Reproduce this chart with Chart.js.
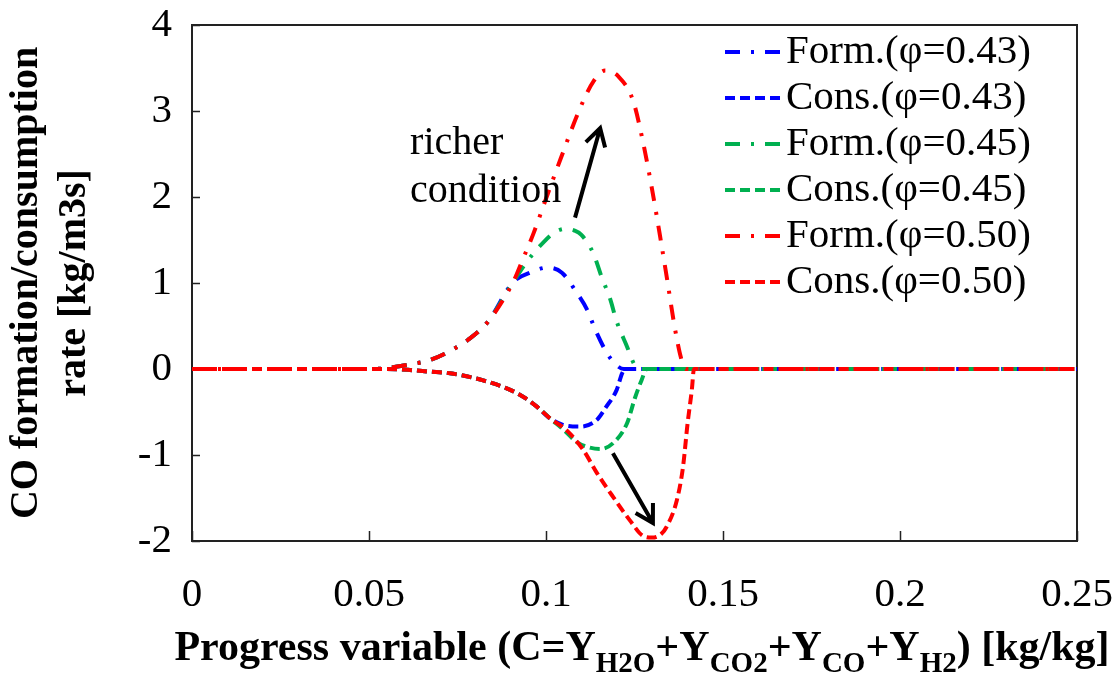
<!DOCTYPE html>
<html>
<head>
<meta charset="utf-8">
<script src="https://cdn.jsdelivr.net/npm/chart.js@4.4.0/dist/chart.umd.min.js"></script>
<style>
  html, body { margin: 0; padding: 0; background: #fff; }
</style>
</head>
<body>
<canvas id="rate" width="1120" height="675"></canvas>
<script>
const serif = "'Liberation Serif', 'Times New Roman', serif";

// progress variable C [kg/kg] vs CO formation / consumption rate [kg/m3s]
const formX43 = [0, 0.05, 0.055, 0.061, 0.067, 0.0734, 0.078, 0.0836, 0.0907, 0.0955, 0.1005, 0.1045, 0.1088, 0.1116, 0.114, 0.117, 0.1195, 0.122, 0.25];
const formY43 = [0, 0, 0.01, 0.05, 0.10, 0.22, 0.34, 0.55, 1.01, 1.12, 1.18, 1.12, 0.88, 0.69, 0.45, 0.20, 0.06, 0, 0];
const consX43 = [0, 0.05, 0.055, 0.061, 0.067, 0.0729, 0.082, 0.0918, 0.0975, 0.101, 0.1048, 0.1096, 0.1144, 0.117, 0.120, 0.1215, 0.1225, 0.25];
const consY43 = [0, 0, 0, -0.01, -0.03, -0.05, -0.13, -0.28, -0.44, -0.57, -0.65, -0.67, -0.59, -0.44, -0.24, -0.05, 0, 0];

const formX45 = [0, 0.05, 0.055, 0.061, 0.067, 0.0734, 0.078, 0.0836, 0.0907, 0.095, 0.0992, 0.1025, 0.1054, 0.108, 0.110, 0.1133, 0.1158, 0.118, 0.120, 0.1229, 0.125, 0.127, 0.25];
const formY45 = [0, 0, 0.01, 0.05, 0.10, 0.22, 0.34, 0.55, 1.01, 1.27, 1.47, 1.59, 1.63, 1.61, 1.56, 1.35, 1.06, 0.83, 0.55, 0.26, 0.05, 0, 0];
const consX45 = [0, 0.05, 0.055, 0.061, 0.067, 0.0729, 0.082, 0.0918, 0.0975, 0.101, 0.1048, 0.1087, 0.112, 0.1153, 0.119, 0.1229, 0.1251, 0.127, 0.1285, 0.25];
const consY45 = [0, 0, 0, -0.01, -0.03, -0.05, -0.13, -0.28, -0.44, -0.57, -0.70, -0.85, -0.91, -0.93, -0.86, -0.63, -0.34, -0.13, 0, 0];

const formX50 = [0, 0.05, 0.055, 0.061, 0.067, 0.0734, 0.078, 0.0836, 0.0907, 0.0935, 0.0965, 0.100, 0.104, 0.1096, 0.1135, 0.1167, 0.1205, 0.1246, 0.1275, 0.130, 0.1322, 0.1343, 0.1363, 0.1382, 0.1395, 0.25];
const formY50 = [0, 0, 0.01, 0.05, 0.10, 0.22, 0.34, 0.55, 1.01, 1.28, 1.58, 1.98, 2.43, 3.03, 3.35, 3.47, 3.40, 3.12, 2.62, 2.08, 1.55, 1.02, 0.50, 0.12, 0, 0];
const consX50 = [0, 0.05, 0.055, 0.061, 0.067, 0.0729, 0.082, 0.0918, 0.0975, 0.101, 0.106, 0.1105, 0.1144, 0.119, 0.1237, 0.1274, 0.130, 0.1325, 0.134, 0.137, 0.1387, 0.140, 0.1412, 0.1418, 0.25];
const consY50 = [0, 0, 0, -0.01, -0.03, -0.05, -0.13, -0.28, -0.44, -0.57, -0.72, -0.94, -1.21, -1.49, -1.76, -1.94, -1.96, -1.92, -1.84, -1.52, -1.14, -0.63, -0.24, 0, 0];

const seriesLabels = ['Form.(φ=0.43)', 'Cons.(φ=0.43)', 'Form.(φ=0.45)', 'Cons.(φ=0.45)', 'Form.(φ=0.50)', 'Cons.(φ=0.50)'];
const xTickVals = [0, 0.05, 0.1, 0.15, 0.2, 0.25];
const xTickLabels = ['0', '0.05', '0.1', '0.15', '0.2', '0.25'];

// "richer condition" note and its two arrows, in data units
const noteLines = ['richer', 'condition'];
const noteAt = { x: 0.0616, y: [2.50, 1.94] };
const arrows = [
  { from: [0.1082, 1.76], to: [0.1153, 2.80] },
  { from: [0.1189, -0.98], to: [0.1302, -1.79] }
];

const BLUE = '#0000ff', GREEN = '#00b050', RED = '#ff0000';
const DASHDOT = [15, 11, 3, 11];
const DASH = [10, 5];

const pts = (xs, ys) => xs.map((v, i) => ({ x: v, y: ys[i] }));

function line(label, xs, ys, color, dash, order) {
  return {
    label, data: pts(xs, ys), borderColor: color, backgroundColor: color,
    borderDash: dash, borderWidth: 4, borderCapStyle: 'butt',
    pointRadius: 0, cubicInterpolationMode: 'monotone', fill: false, order
  };
}

// box frame with inward tick marks
const framePlugin = {
  id: 'frame',
  beforeDatasetsDraw(chart) {
    const { ctx, chartArea: a, scales: { x, y } } = chart;
    ctx.save();
    ctx.strokeStyle = '#222';
    ctx.lineWidth = 2;
    ctx.strokeRect(a.left, a.top, a.right - a.left, a.bottom - a.top);
    ctx.lineWidth = 1.5;
    ctx.beginPath();
    y.ticks.forEach(t => {
      const py = Math.round(y.getPixelForValue(t.value)) + 0.5;
      ctx.moveTo(a.left, py); ctx.lineTo(a.left + 8, py);
    });
    x.ticks.forEach(t => {
      const px = Math.round(x.getPixelForValue(t.value)) + 0.5;
      ctx.moveTo(px, a.bottom); ctx.lineTo(px, a.bottom - 10);
    });
    ctx.stroke();
    ctx.restore();
  }
};

function drawArrow(ctx, x0, y0, x1, y1) {
  const ang = Math.atan2(y1 - y0, x1 - x0);
  const len = 20, spread = Math.PI / 6;
  ctx.beginPath();
  ctx.moveTo(x0, y0); ctx.lineTo(x1, y1);
  ctx.moveTo(x1 - len * Math.cos(ang - spread), y1 - len * Math.sin(ang - spread));
  ctx.lineTo(x1, y1);
  ctx.lineTo(x1 - len * Math.cos(ang + spread), y1 - len * Math.sin(ang + spread));
  ctx.stroke();
}

const notePlugin = {
  id: 'notes',
  afterDatasetsDraw(chart) {
    const { ctx, scales: { x, y } } = chart;
    ctx.save();
    ctx.fillStyle = '#000';
    ctx.font = '40px ' + serif;
    ctx.textAlign = 'left';
    ctx.textBaseline = 'alphabetic';
    noteLines.forEach((t, i) => ctx.fillText(t, x.getPixelForValue(noteAt.x), y.getPixelForValue(noteAt.y[i])));
    ctx.strokeStyle = '#000';
    ctx.lineWidth = 4;
    ctx.lineJoin = 'miter';
    arrows.forEach(a => drawArrow(ctx,
      x.getPixelForValue(a.from[0]), y.getPixelForValue(a.from[1]),
      x.getPixelForValue(a.to[0]), y.getPixelForValue(a.to[1])));
    ctx.restore();
  }
};

// legend inside the plot, top right
const keyPlugin = {
  id: 'key',
  afterDatasetsDraw(chart) {
    const ctx = chart.ctx;
    ctx.save();
    ctx.font = '41px ' + serif;
    ctx.textBaseline = 'middle';
    ctx.textAlign = 'left';
    chart.data.datasets.forEach((ds, i) => {
      const yy = 52 + i * 46;
      ctx.strokeStyle = ds.borderColor;
      ctx.lineWidth = 4;
      ctx.setLineDash(ds.borderDash);
      ctx.beginPath();
      ctx.moveTo(725, yy); ctx.lineTo(781, yy);
      ctx.stroke();
      ctx.setLineDash([]);
      ctx.fillStyle = '#000';
      ctx.fillText(ds.label, 786, yy);
    });
    ctx.restore();
  }
};

// x axis title with subscripts
const xTitleParts = [
  ['Progress variable (C=Y', false], ['H2O', true], ['+Y', false], ['CO2', true],
  ['+Y', false], ['CO', true], ['+Y', false], ['H2', true], [') [kg/kg]', false]
];
const xTitlePlugin = {
  id: 'xTitle',
  afterDraw(chart) {
    const ctx = chart.ctx;
    const big = 'bold 42px ' + serif, small = 'bold 29px ' + serif;
    ctx.save();
    ctx.fillStyle = '#000';
    ctx.textBaseline = 'alphabetic';
    let w = 0;
    xTitleParts.forEach(([t, sub]) => { ctx.font = sub ? small : big; w += ctx.measureText(t).width; });
    let px = 642 - w / 2;
    const base = 660;
    xTitleParts.forEach(([t, sub]) => {
      ctx.font = sub ? small : big;
      ctx.fillText(t, px, sub ? base + 12 : base);
      px += ctx.measureText(t).width;
    });
    ctx.restore();
  }
};

new Chart(document.getElementById('rate'), {
  type: 'line',
  data: {
    datasets: [
      line(seriesLabels[0], formX43, formY43, BLUE, DASHDOT, 5),
      line(seriesLabels[1], consX43, consY43, BLUE, DASH, 4),
      line(seriesLabels[2], formX45, formY45, GREEN, DASHDOT, 3),
      line(seriesLabels[3], consX45, consY45, GREEN, DASH, 2),
      line(seriesLabels[4], formX50, formY50, RED, DASHDOT, 1),
      line(seriesLabels[5], consX50, consY50, RED, DASH, 0)
    ]
  },
  options: {
    responsive: false,
    animation: false,
    devicePixelRatio: 1,
    layout: { padding: { top: 25, right: 43, left: 0, bottom: 0 } },
    plugins: { legend: { display: false }, tooltip: { enabled: false } },
    scales: {
      x: {
        type: 'linear', min: 0, max: 0.25,
        afterBuildTicks: s => { s.ticks = xTickVals.map(v => ({ value: v })); },
        afterFit: s => { s.height = 134; s.paddingLeft = 0; s.paddingRight = 0; },
        border: { display: false },
        grid: { display: false, drawTicks: false },
        ticks: {
          padding: 30, color: '#000', maxRotation: 0,
          font: { family: serif, size: 41 },
          callback: (v, i) => xTickLabels[i]
        }
      },
      y: {
        min: -2, max: 4,
        afterFit: s => { s.width = 192; s.paddingTop = 0; s.paddingBottom = 0; },
        border: { display: false },
        grid: { display: false, drawTicks: false },
        ticks: { stepSize: 1, padding: 20, color: '#000', font: { family: serif, size: 41 } },
        title: {
          display: true,
          text: ['CO formation/consumption', 'rate [kg/m3s]'],
          color: '#000',
          font: { family: serif, size: 40, weight: 'bold', lineHeight: 1.2 },
          padding: { top: 3, bottom: 0 }
        }
      }
    }
  },
  plugins: [framePlugin, notePlugin, keyPlugin, xTitlePlugin]
});
</script>
</body>
</html>
